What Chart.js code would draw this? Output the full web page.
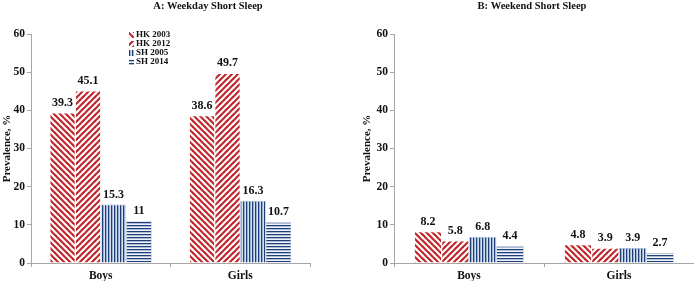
<!DOCTYPE html>
<html>
<head>
<meta charset="utf-8">
<script src="https://cdn.jsdelivr.net/npm/chart.js@4/dist/chart.umd.min.js"></script>
<style>
  html, body { margin: 0; padding: 0; background: #fff; }
  #wrap { display: flex; width: 694px; height: 281px; }
  .box { position: relative; height: 281px; }
</style>
</head>
<body>
<div id="wrap">
  <div class="box" style="width:350px"><canvas id="cA"></canvas></div>
  <div class="box" style="width:344px"><canvas id="cB"></canvas></div>
</div>
<script>
const categories = ['Boys', 'Girls'];
const seriesLabels = ['HK 2003', 'HK 2012', 'SH 2005', 'SH 2014'];
const weekdayHK2003 = [39.3, 38.6];
const weekdayHK2012 = [45.1, 49.7];
const weekdaySH2005 = [15.3, 16.3];
const weekdaySH2014 = [11, 10.7];
const weekendHK2003 = [8.2, 4.8];
const weekendHK2012 = [5.8, 3.9];
const weekendSH2005 = [6.8, 3.9];
const weekendSH2014 = [4.4, 2.7];
const yTickValues = [0, 10, 20, 30, 40, 50, 60];

const FONT = "'Liberation Serif', 'Times New Roman', serif";
const RED = '#c0272d';
const BLUE = '#1f3f7a';

function makePattern(kind) {
  const c = document.createElement('canvas');
  const ctx = c.getContext('2d');
  if (kind === 'back' || kind === 'fwd') {
    const s = 6;
    c.width = s; c.height = s;
    ctx.fillStyle = '#ffffff';
    ctx.fillRect(0, 0, s, s);
    ctx.strokeStyle = RED;
    ctx.lineWidth = 2.2;
    for (let k = -s; k <= s; k += s) {
      ctx.beginPath();
      if (kind === 'back') { ctx.moveTo(k - 1, -1); ctx.lineTo(k + s + 1, s + 1); }
      else { ctx.moveTo(k - 1, s + 1); ctx.lineTo(k + s + 1, -1); }
      ctx.stroke();
    }
  } else if (kind === 'vert') {
    c.width = 3; c.height = 3;
    ctx.fillStyle = '#d3e0f0';
    ctx.fillRect(0, 0, 3, 3);
    ctx.fillStyle = BLUE;
    ctx.fillRect(0, 0, 1.3, 3);
  } else {
    c.width = 3; c.height = 3;
    ctx.fillStyle = '#eef3fa';
    ctx.fillRect(0, 0, 3, 3);
    ctx.fillStyle = BLUE;
    ctx.fillRect(0, 0, 3, 1.3);
  }
  return ctx.createPattern(c, 'repeat');
}
const fills = [makePattern('back'), makePattern('fwd'), makePattern('vert'), makePattern('horiz')];
const borders = ['rgba(0,0,0,0)', 'rgba(0,0,0,0)', '#9fb5d6', '#9fb5d6'];

const valueLabels = {
  id: 'valueLabels',
  afterDatasetsDraw(chart) {
    const ctx = chart.ctx;
    ctx.save();
    ctx.font = 'bold 12px ' + FONT;
    ctx.fillStyle = '#111';
    ctx.textAlign = 'center';
    ctx.textBaseline = 'bottom';
    chart.data.datasets.forEach((ds, i) => {
      const meta = chart.getDatasetMeta(i);
      meta.data.forEach((el, j) => {
        ctx.fillText(String(ds.data[j]), el.x, el.y - 4);
      });
    });
    ctx.restore();
  }
};

const boxLegend = {
  id: 'boxLegend',
  afterDraw(chart, args, opts) {
    if (!opts.show) return;
    const ctx = chart.ctx;
    ctx.save();
    ctx.font = 'bold 9px ' + FONT;
    ctx.textBaseline = 'middle';
    ctx.textAlign = 'left';
    chart.data.datasets.forEach((ds, i) => {
      const y = opts.y + i * 9;
      ctx.fillStyle = ds.backgroundColor;
      ctx.fillRect(opts.x, y - 3, 5, 6);
      ctx.fillStyle = '#111';
      ctx.fillText(ds.label, opts.x + 7, y);
    });
    ctx.restore();
  }
};

const panelTitle = {
  id: 'panelTitle',
  afterDraw(chart, args, opts) {
    const ctx = chart.ctx;
    ctx.save();
    ctx.font = 'bold 10.5px ' + FONT;
    ctx.fillStyle = '#111';
    ctx.textAlign = 'center';
    ctx.textBaseline = 'middle';
    ctx.fillText(opts.text, opts.x, opts.y);
    ctx.restore();
  }
};

function buildChart(id, title, titleX, series, padLeft, padRight, yWidth, showLegend) {
  return new Chart(document.getElementById(id), {
    type: 'bar',
    data: {
      labels: categories,
      datasets: series.map((d, i) => ({
        label: seriesLabels[i],
        data: d,
        backgroundColor: fills[i],
        borderColor: borders[i],
        borderWidth: 0.6,
        barPercentage: 1.0,
        categoryPercentage: 0.73
      }))
    },
    options: {
      responsive: true,
      maintainAspectRatio: false,
      animation: false,
      layout: { padding: { left: padLeft, right: padRight, top: 34, bottom: 0 } },
      plugins: {
        legend: { display: false },
        tooltip: { enabled: false },
        title: { display: false },
        panelTitle: { text: title, x: titleX, y: 6 },
        boxLegend: { show: showLegend, x: 129, y: 35 }
      },
      scales: {
        x: {
          afterFit(scale) { scale.height = 18; },
          grid: { display: true, drawOnChartArea: false, drawTicks: true, tickLength: 4, color: '#a6a6a6', offset: true },
          border: { color: '#a6a6a6' },
          ticks: { color: '#111', font: { family: FONT, size: 11.5, weight: 'bold' }, padding: 2 }
        },
        y: {
          min: 0, max: 60,
          afterBuildTicks(scale) { scale.ticks = yTickValues.map(v => ({ value: v })); },
          afterFit(scale) { scale.width = yWidth; },
          grid: { display: true, drawOnChartArea: false, drawTicks: true, tickLength: 4, color: '#a6a6a6' },
          border: { color: '#a6a6a6' },
          ticks: { color: '#111', font: { family: FONT, size: 11.5, weight: 'bold' }, padding: 2 },
          title: {
            display: true, text: 'Prevalence, %', color: '#111',
            font: { family: FONT, size: 11, weight: 'bold' }, padding: { top: 1, bottom: 0 }
          }
        }
      }
    },
    plugins: [valueLabels, boxLegend, panelTitle]
  });
}

buildChart('cA', 'A: Weekday Short Sleep', 208,
  [weekdayHK2003, weekdayHK2012, weekdaySH2005, weekdaySH2014], 0, 40, 31, true);
buildChart('cB', 'B: Weekend Short Sleep', 182,
  [weekendHK2003, weekendHK2012, weekendSH2005, weekendSH2014], 10, 0, 34, false);
</script>
</body>
</html>
